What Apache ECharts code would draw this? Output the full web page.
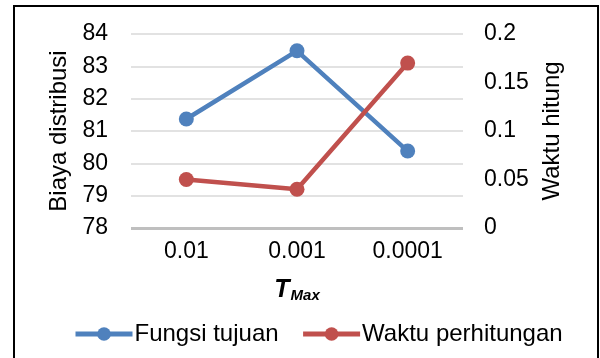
<!DOCTYPE html>
<html><head><meta charset="utf-8">
<script src="https://cdn.jsdelivr.net/npm/echarts@6/dist/echarts.min.js"></script>
<style>html,body{margin:0;padding:0;background:#fff}#c{width:600px;height:358px}</style>
</head><body><div id="c"></div>
<script>
const categories = ['0.01', '0.001', '0.0001'];
const fungsiTujuan = [81.37, 83.48, 80.38];
const waktuPerhitungan = [0.05, 0.04, 0.17];
const leftTicks = [78, 84, 1];
const rightTicks = [0, 0.2, 0.05];

const font = 'Liberation Sans, Arial, sans-serif';
const fs = 24;
const fsTick = 23;
const chart = echarts.init(document.getElementById('c'), null, {renderer: 'canvas'});
chart.setOption({
  animation: false,
  backgroundColor: '#fff',
  textStyle: {fontFamily: font},
  graphic: [{type: 'rect', shape: {x: 14, y: 6, width: 584, height: 370}, style: {fill: 'none', stroke: '#000', lineWidth: 2}, silent: true}],
  grid: {left: 131, right: 137, top: 34, bottom: 130},
  legend: {
    top: 317, left: 68, itemWidth: 57, itemHeight: 17, itemGap: 22,
    textStyle: {fontSize: fs, color: '#000', fontFamily: font, padding: [0, 0, 0, -3]},
    lineStyle: {width: 5},
    data: ['Fungsi tujuan', 'Waktu perhitungan']
  },
  xAxis: {
    type: 'category', data: categories, boundaryGap: true,
    axisLine: {show: false}, axisTick: {show: false},
    axisLabel: {fontSize: fsTick, color: '#000', margin: 12, fontFamily: font},
    name: '{t|T}{s|Max}', nameLocation: 'middle', nameGap: 49,
    nameTextStyle: {
      rich: {
        t: {fontSize: 25, fontStyle: 'italic', fontWeight: 'bold', color: '#000', fontFamily: font},
        s: {fontSize: 15, fontStyle: 'italic', fontWeight: 'bold', color: '#000', fontFamily: font, padding: [11, 0, 0, 1]}
      }
    }
  },
  yAxis: [{
    type: 'value', min: leftTicks[0], max: leftTicks[1], interval: leftTicks[2],
    axisLine: {show: false}, axisTick: {show: false},
    axisLabel: {fontSize: fsTick, color: '#000', margin: 23, fontFamily: font},
    splitLine: {lineStyle: {color: '#d9d9d9', width: 1.5}},
    name: 'Biaya distribusi', nameLocation: 'middle', nameGap: 57, nameRotate: 90,
    nameTextStyle: {fontSize: fs, color: '#000', fontFamily: font}
  }, {
    type: 'value', min: rightTicks[0], max: rightTicks[1], interval: rightTicks[2],
    axisLine: {show: false}, axisTick: {show: false},
    axisLabel: {fontSize: fsTick, color: '#000', margin: 21, fontFamily: font},
    splitLine: {show: false},
    name: 'Waktu hitung', nameLocation: 'middle', nameGap: 77, nameRotate: 90,
    nameTextStyle: {fontSize: fs, color: '#000', fontFamily: font}
  }],
  series: [{
    type: 'line', name: 'Fungsi tujuan', data: fungsiTujuan, yAxisIndex: 0,
    symbol: 'circle', symbolSize: 15, color: '#4f81bd',
    lineStyle: {width: 4.5, color: '#4f81bd'}, itemStyle: {color: '#4f81bd'},
    markLine: {silent: true, symbol: 'none', label: {show: false}, lineStyle: {color: '#bfbfbf', width: 3, type: 'solid'}, data: [{yAxis: 78}]}
  }, {
    type: 'line', name: 'Waktu perhitungan', data: waktuPerhitungan, yAxisIndex: 1,
    symbol: 'circle', symbolSize: 15, color: '#c0504d',
    lineStyle: {width: 4.5, color: '#c0504d'}, itemStyle: {color: '#c0504d'}
  }]
});
</script></body></html>
